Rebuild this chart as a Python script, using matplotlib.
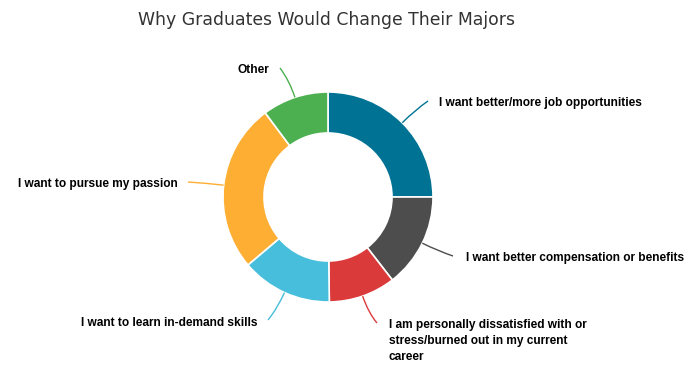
import matplotlib
matplotlib.use("Agg")
import matplotlib.pyplot as plt
import numpy as np
from matplotlib.path import Path
from matplotlib.patches import PathPatch

title = "Why Graduates Would Change Their Majors"
categories = [
    "I want better/more job opportunities",
    "I want better compensation or benefits",
    "I am personally dissatisfied with or\nstress/burned out in my current\ncareer",
    "I want to learn in-demand skills",
    "I want to pursue my passion",
    "Other",
]
values = [25.0, 14.5, 10.3, 14.0, 26.0, 10.2]
colors = ["#007294", "#4d4d4d", "#db3a3b", "#47bedb", "#fdae33", "#4caf50"]

W, H = 691, 367
fig = plt.figure(figsize=(W / 100, H / 100), dpi=100)
ax = fig.add_axes([0, 0, 1, 1])

cx, cy, R, width = 328, H - 197, 105, 41
wedges, _ = ax.pie(values, colors=colors, startangle=90, counterclock=False,
                   center=(cx, cy), radius=R, frame=True,
                   wedgeprops=dict(width=width, edgecolor="white", linewidth=1.2))
ax.set_xlim(0, W)
ax.set_ylim(0, H)
ax.set_aspect("equal")
ax.axis("off")

# label layout: (end of connector), (label anchor), ha
layout = [
    ((428, 101), (439, 103), "left"),
    ((453, 256), (466, 258), "left"),
    ((377, 323), (389, 341), "left"),
    ((268, 320), (258, 323), "right"),
    ((188, 182), (178, 184), "right"),
    ((280, 68), (269, 70), "right"),
]

for w, lab, col, (end, anc, ha) in zip(wedges, categories, colors, layout):
    mid = np.deg2rad((w.theta1 + w.theta2) / 2)
    sx, sy = cx + R * np.cos(mid), cy + R * np.sin(mid)
    ex, ey = end[0], H - end[1]
    kx, ky = cx + (R + 18) * np.cos(mid), cy + (R + 18) * np.sin(mid)
    path = Path([(sx, sy), (kx, ky), (ex, ey)], [Path.MOVETO, Path.CURVE3, Path.CURVE3])
    ax.add_patch(PathPatch(path, facecolor="none", edgecolor=col, linewidth=1))
    ax.text(anc[0], H - anc[1], lab, ha=ha, va="center", fontsize=8.6,
            fontweight="bold", family="Liberation Sans", color="#000000",
            linespacing=1.4)

ax.text(327, H - 20, title, ha="center", va="center", fontsize=12.4, color="#333333")

fig.savefig("out.png", dpi=100)
